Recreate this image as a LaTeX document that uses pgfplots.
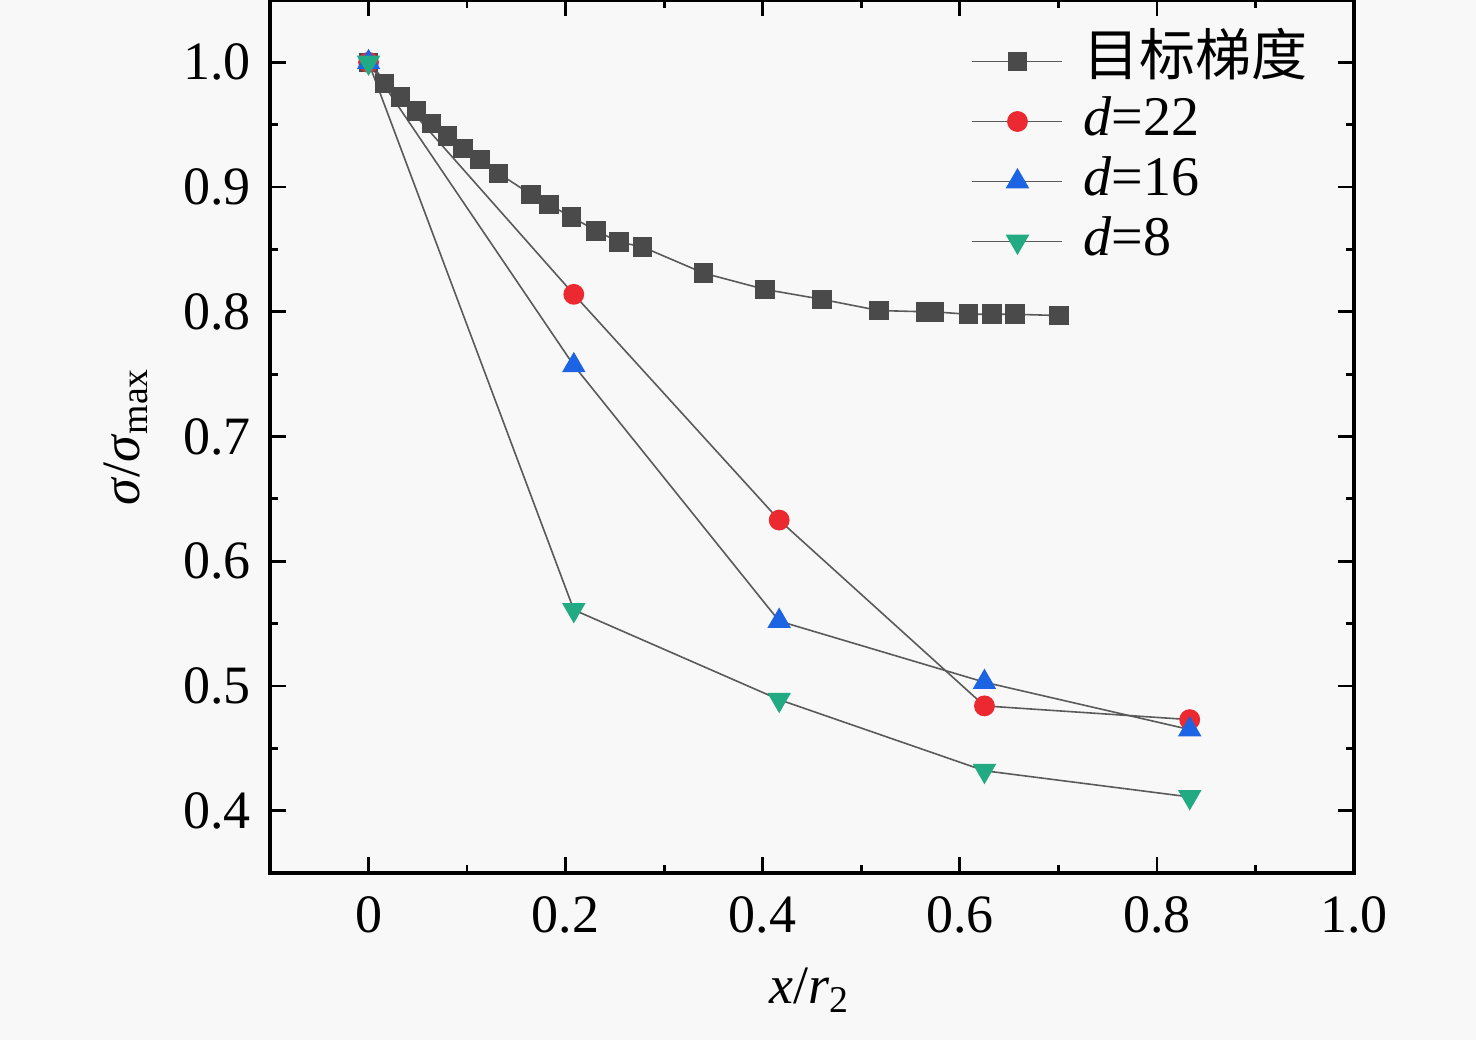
\documentclass[border=0pt]{standalone}
\usepackage{fontspec}
\setmainfont{Liberation Serif}
\newfontfamily\cjk{Noto Sans CJK SC}
\usepackage{pgfplots}
\pgfplotsset{compat=1.18}
\usepackage{pgfplotstable}
\usetikzlibrary{backgrounds}
\definecolor{bgc}{RGB}{248,248,248}
\definecolor{sqc}{RGB}{74,74,74}
\definecolor{redc}{RGB}{236,40,48}
\definecolor{bluec}{RGB}{28,100,228}
\definecolor{greenc}{RGB}{34,170,130}
\definecolor{linec}{RGB}{90,90,90}

\pgfplotstableread{
x y
0 1.000
0.0162 0.983
0.0325 0.972
0.0487 0.961
0.0640 0.951
0.0800 0.941
0.0960 0.931
0.1130 0.922
0.1320 0.911
0.1650 0.894
0.1830 0.886
0.2060 0.876
0.2310 0.865
0.2540 0.856
0.2780 0.852
0.3400 0.831
0.4020 0.818
0.4600 0.810
0.5180 0.801
0.5655 0.800
0.5736 0.800
0.6090 0.798
0.6325 0.798
0.6560 0.798
0.7005 0.797
}\target

\pgfplotstableread{
x y
0 1.000
0.2083 0.814
0.4167 0.633
0.6250 0.484
0.8333 0.473
}\dtwentytwo

\pgfplotstableread{
x y
0 1.000
0.2083 0.757
0.4167 0.552
0.6250 0.503
0.8333 0.465
}\dsixteen

\pgfplotstableread{
x y
0 1.000
0.2083 0.561
0.4167 0.489
0.6250 0.432
0.8333 0.411
}\deight

\begin{document}
\begin{tikzpicture}
\begin{axis}[
  name=ax,
  scale only axis,
  width=271pt, height=218.25pt,
  xmin=-0.1, xmax=1.0,
  ymin=0.35, ymax=1.05,
  xtick={0,0.2,0.4,0.6,0.8,1.0},
  xticklabels={0,0.2,0.4,0.6,0.8,1.0},
  ytick={0.4,0.5,0.6,0.7,0.8,0.9,1.0},
  yticklabels={0.4,0.5,0.6,0.7,0.8,0.9,1.0},
  minor x tick num=1,
  minor y tick num=1,
  tick align=inside,
  major tick length=4pt,
  minor tick length=2pt,
  every tick/.style={black, line width=0.7pt},
  axis line style={line width=0.8pt},
  /pgf/number format/assume math mode=true,
  tick label style={font=\fontsize{13.5}{16}\selectfont},
  xticklabel style={yshift=-2.25pt},
  yticklabel style={xshift=-1.25pt},
  xlabel={\textit{x}/\textit{r}\textsubscript{2}},
  ylabel={\textit{σ}/\textit{σ}\textsubscript{max}},
  label style={font=\fontsize{13.5}{16}\selectfont},
  xlabel style={at={(axis description cs:0.498,-0.134)}, anchor=center},
  ylabel style={at={(axis description cs:-0.133,0.5)}, anchor=center, rotate=0},
  legend style={at={(rel axis cs:0.6355,0.974)}, anchor=north west, draw=none, fill=none,
    font=\fontsize{14}{15}\selectfont,
    nodes={text height=10pt, text depth=3pt, inner sep=1pt},
    /tikz/every odd column/.append style={column sep=4pt}},
  legend cell align=left,
  legend image code/.code={
    \draw[#1, mark repeat=2, mark phase=2] plot coordinates {(0pt,0pt) (11.25pt,0pt) (22.5pt,0pt)};
  },
  every axis plot/.append style={line width=0.4pt, color=linec},
]
\addplot[linec, mark=square*, mark size=2.25pt, mark options={fill=sqc, draw=sqc}] table[x=x,y=y] {\target};
\addlegendentry{\cjk 目标梯度}
\addplot[linec, mark=*, mark size=2.4pt, mark options={fill=redc, draw=redc}] table[x=x,y=y] {\dtwentytwo};
\addlegendentry{\textit{d}=22}
\addplot[linec, mark=triangle*, mark size=3pt, mark options={fill=bluec, draw=bluec}] table[x=x,y=y] {\dsixteen};
\addlegendentry{\textit{d}=16}
\addplot[linec, mark=triangle*, mark size=3pt, mark options={fill=greenc, draw=greenc, rotate=180}] table[x=x,y=y] {\deight};
\addlegendentry{\textit{d}=8}
\end{axis}
\pgfresetboundingbox
\path[use as bounding box] ([xshift=-67.5pt,yshift=-41.75pt]ax.south west) rectangle ([xshift=30.5pt]ax.north east);
\begin{pgfonlayer}{background}
\fill[bgc] ([xshift=-67.5pt,yshift=-41.75pt]ax.south west) rectangle ([xshift=30.5pt]ax.north east);
\end{pgfonlayer}
\end{tikzpicture}
\end{document}
